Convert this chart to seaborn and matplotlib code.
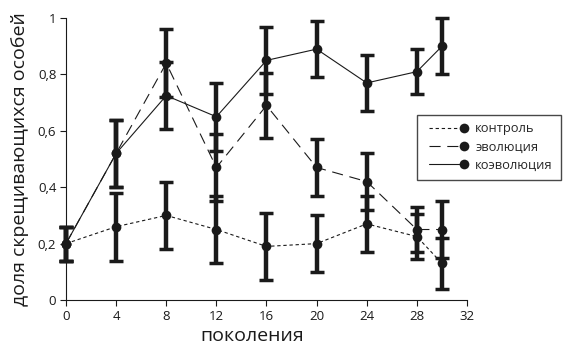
import matplotlib
matplotlib.use("Agg")
import matplotlib.pyplot as plt
from matplotlib.lines import Line2D
from matplotlib.legend_handler import HandlerLine2D
import seaborn as sns
import pandas as pd

generations = [0, 4, 8, 12, 16, 20, 24, 28, 30]
control = [0.20, 0.26, 0.30, 0.25, 0.19, 0.20, 0.27, 0.225, 0.13]
control_err = [0.06, 0.12, 0.12, 0.12, 0.12, 0.10, 0.10, 0.08, 0.09]
evolution = [0.20, 0.52, 0.84, 0.47, 0.69, 0.47, 0.42, 0.25, 0.25]
evolution_err = [0.06, 0.12, 0.12, 0.12, 0.115, 0.10, 0.10, 0.08, 0.10]
coevolution = [0.20, 0.52, 0.725, 0.65, 0.85, 0.89, 0.77, 0.81, 0.90]
coevolution_err = [0.06, 0.12, 0.12, 0.12, 0.12, 0.10, 0.10, 0.08, 0.10]
labels = ["контроль", "эволюция", "коэволюция"]
xticks = [0, 4, 8, 12, 16, 20, 24, 28, 32]
yticks = [0, 0.2, 0.4, 0.6, 0.8, 1.0]
yticklabels = ["0", "0,2", "0,4", "0,6", "0,8", "1"]

sns.set_theme(style="ticks")
plt.rcParams["font.family"] = ["Open Sans", "DejaVu Sans"]

fig = plt.figure(figsize=(5.72, 3.55), dpi=100)
ax = fig.add_axes([0.1154, 0.155, 0.701, 0.794])

series = [(control, control_err, (0, (3, 2.5)), 0.8),
          (evolution, evolution_err, (0, (10, 6)), 0.8),
          (coevolution, coevolution_err, "-", 0.8)]

ink = "#1a1a1a"


class EndMarkerHandler(HandlerLine2D):
    def create_artists(self, legend, orig_handle, xdescent, ydescent, width,
                       height, fontsize, trans):
        arts = super().create_artists(legend, orig_handle, xdescent, ydescent,
                                      width, height, fontsize, trans)
        for a in arts:
            a.set_markevery([len(a.get_xdata()) - 1])
        return arts


handles = []
for (vals, errs, ls, lw), lab in zip(series, labels):
    df = pd.DataFrame({"x": generations, "y": vals})
    ax.errorbar(generations, vals, yerr=errs, fmt="none", ecolor=ink,
                elinewidth=3.2, capsize=5, capthick=2.5, clip_on=False, zorder=2)
    sns.lineplot(data=df, x="x", y="y", ax=ax, color=ink, linestyle=ls, linewidth=lw,
                 marker="o", markersize=7, markeredgewidth=0, errorbar=None,
                 legend=False, zorder=3)
    handles.append(Line2D([0, 1], [0, 0], color=ink, linestyle=ls, linewidth=lw,
                          marker="o", markersize=7, markeredgewidth=0, label=lab))

for l in ax.lines:
    l.set_clip_on(False)

ax.set_xlim(0, 32)
ax.set_ylim(0, 1)
ax.set_xticks(xticks)
ax.set_xticklabels([str(t) for t in xticks])
ax.set_yticks(yticks)
ax.set_yticklabels(yticklabels)
ax.tick_params(axis="both", labelsize=9.5, length=4, width=0.8, color=ink,
               labelcolor=ink, pad=3, direction="out")
for s in ["top", "right"]:
    ax.spines[s].set_visible(False)
for s in ["left", "bottom"]:
    ax.spines[s].set_linewidth(0.8)
    ax.spines[s].set_color(ink)

ax.set_xlabel("поколения", fontsize=14, color=ink)
ax.xaxis.set_label_coords(0.464, -0.095)
ax.set_ylabel("доля скрещивающихся особей", fontsize=14, color=ink, labelpad=6)

leg = fig.legend(handles=handles, loc="upper left",
                 bbox_to_anchor=(0.718, 0.695), numpoints=2,
                 handler_map={Line2D: EndMarkerHandler(numpoints=2)},
                 handlelength=3.3, fontsize=9.3, frameon=True, fancybox=False,
                 edgecolor=ink, borderpad=0.6, labelspacing=0.4, handletextpad=0.6)
leg.get_frame().set_linewidth(1.0)

fig.savefig("out.png", dpi=100)
